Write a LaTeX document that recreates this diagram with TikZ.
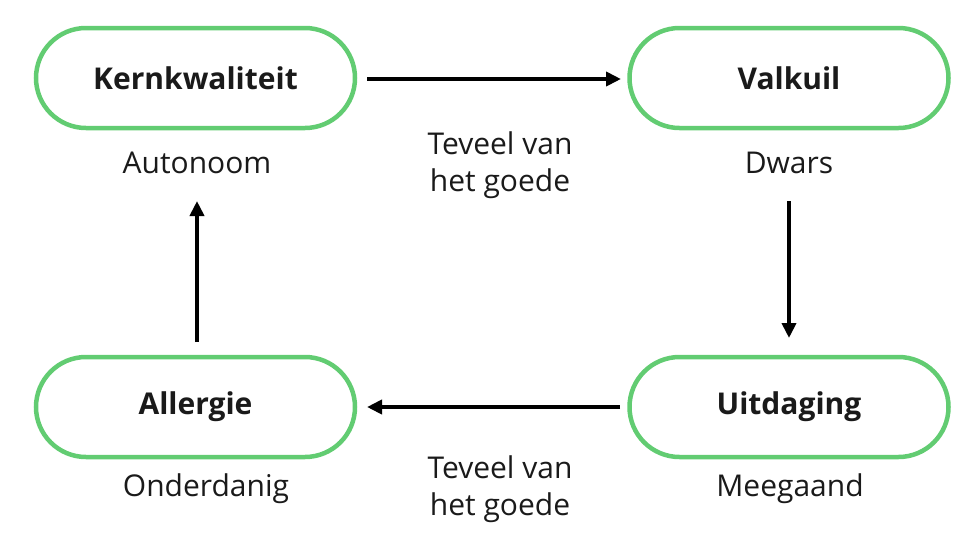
\documentclass[tikz,border=0pt]{standalone}
\usepackage{fontspec}
\setmainfont{Open Sans}
\usetikzlibrary{arrows.meta}
\definecolor{pillgreen}{HTML}{62CC72}
\definecolor{ink}{HTML}{1A1A1A}
\begin{document}
\begin{tikzpicture}[x=1pt,y=-1pt,
  pill/.style={draw=pillgreen, line width=4.5pt, rounded corners=50pt, minimum width=319pt, minimum height=100pt, fill=white, font=\fontsize{30}{36}\selectfont\bfseries, text=ink, inner sep=0pt},
  lbl/.style={font=\fontsize{30}{37}\selectfont, text=ink, align=center, inner sep=0pt},
  flow/.style={line width=4pt, draw=black, -{Triangle[length=15pt,width=14pt]}}]
\useasboundingbox (0,0) rectangle (974,536);
\node[pill] (kern) at (195.5,78) {Kernkwaliteit};
\node[pill] (valk) at (789,78) {Valkuil};
\node[pill] (uit) at (789,407) {Uitdaging};
\node[pill] (all) at (195.5,407) {Allergie};
\node[lbl] (auto) at (197,163) {Autonoom};
\node[lbl] (dwars) at (789,163) {Dwars};
\node[lbl] (onder) at (206,489) {Onderdanig};
\node[lbl] (mee) at (790,489) {Meegaand};
\node[lbl] (tv1) at (500,165) {Teveel van\\het goede};
\node[lbl] (tv2) at (500,489) {Teveel van\\het goede};
\coordinate (a1s) at (367,79);
\coordinate (a1e) at (621,79);
\coordinate (a2s) at (789,201);
\coordinate (a2e) at (789,338);
\coordinate (a3s) at (620,407);
\coordinate (a3e) at (367,407);
\coordinate (a4s) at (197,342);
\coordinate (a4e) at (197,201);
\draw[flow] (a1s) -- (a1e);
\draw[flow] (a2s) -- (a2e);
\draw[flow] (a3s) -- (a3e);
\draw[flow] (a4s) -- (a4e);
\end{tikzpicture}
\end{document}
